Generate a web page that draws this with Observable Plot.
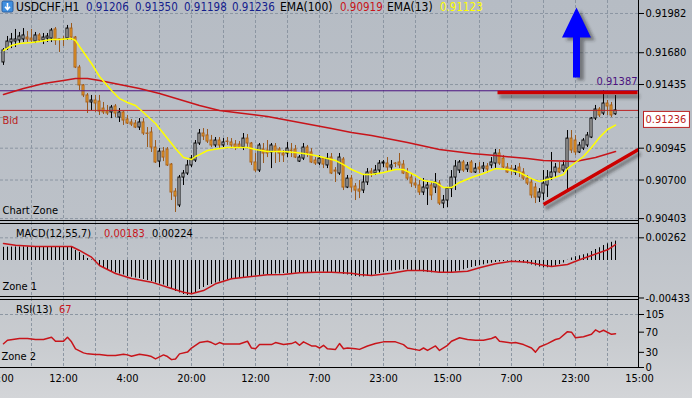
<!DOCTYPE html>
<html><head><meta charset="utf-8">
<script src="https://cdn.jsdelivr.net/npm/d3@7"></script>
<script src="https://cdn.jsdelivr.net/npm/@observablehq/plot@0.6"></script>
<style>
html,body{margin:0;padding:0;background:#c4c8cd;}
#chart{position:relative;width:692px;height:398px;overflow:hidden;
  background:linear-gradient(to bottom,#b6bcc4 0%,#bcc1c8 55%,#c8cbcf 85%,#d3d5d8 100%);}
</style></head><body><div id="chart"></div><script>
// ---------------- DATA ----------------
const symbolName = "USDCHF,H1";
// H1 candles (bar index = position in arrays)
const open = [.91605,.91712,.91759,.91766,.91774,.91782,.91797,.91789,.91766,.91813,
.91774,.91789,.91789,.91859,.91784,.91782,.91789,.91866,.91797,.91566,
.91428,.91351,.91297,.91312,.91304,.91250,.91227,.91220,.91266,.91181,
.91220,.91166,.91143,.91135,.91104,.91143,.91058,.91066,.90950,.90842,
.90919,.90935,.90819,.90611,.90504,.90719,.90750,.90812,.90850,.90981,
.91058,.91043,.91004,.90966,.91004,.90966,.90996,.90989,.90973,.90973,
.90950,.91019,.90981,.90835,.90773,.90935,.90927,.90912,.90958,.90935,
.90904,.90904,.90927,.90935,.90842,.90865,.90950,.90912,.90850,.90827,
.90865,.90812,.90873,.90773,.90750,.90858,.90642,.90711,.90650,.90627,
.90619,.90681,.90765,.90750,.90773,.90827,.90827,.90796,.90827,.90835,
.90819,.90758,.90719,.90673,.90658,.90604,.90634,.90658,.90642,.90673,
.90519,.90542,.90634,.90719,.90773,.90835,.90781,.90835,.90758,.90796,
.90788,.90804,.90812,.90827,.90904,.90865,.90796,.90788,.90758,.90796,
.90758,.90711,.90681,.90642,.90565,.90596,.90658,.90719,.90758,.90788,
.90773,.90788,.91019,.91004,.90912,.90942,.90966,.91027,.91173,.91243,
.91212,.91289,.91274,.91206];
const high = [.91712,.91805,.91828,.91859,.91836,.91866,.91843,.91859,.91836,.91828,
.91828,.91828,.91866,.91874,.91789,.91805,.91890,.91905,.91805,.91582,
.91435,.91366,.91351,.91351,.91351,.91297,.91274,.91274,.91281,.91250,
.91227,.91197,.91166,.91158,.91173,.91173,.91104,.91104,.91004,.90942,
.90950,.90950,.90827,.90634,.90735,.90773,.90850,.90889,.91004,.91089,
.91096,.91089,.91043,.91027,.91027,.91019,.91027,.91019,.91004,.90996,
.91058,.91050,.90989,.90904,.90981,.90981,.91004,.90981,.90981,.90950,
.90927,.90989,.90981,.90966,.90889,.90981,.90966,.90942,.90873,.90889,
.90873,.90904,.90904,.90796,.90904,.90873,.90735,.90735,.90673,.90696,
.90735,.90788,.90788,.90812,.90850,.90850,.90873,.90850,.90835,.90904,
.90850,.90788,.90750,.90711,.90696,.90711,.90681,.90681,.90750,.90696,
.90581,.90642,.90773,.90850,.90850,.90850,.90835,.90850,.90827,.90835,
.90835,.90827,.90873,.90935,.90935,.90889,.90827,.90812,.90812,.90827,
.90788,.90735,.90711,.90673,.90634,.90773,.90773,.90912,.90827,.90835,
.90850,.91081,.91081,.91043,.90989,.91019,.91066,.91181,.91274,.91258,
.91387,.91312,.91297,.91350];
const low = [.91582,.91697,.91712,.91720,.91751,.91759,.91759,.91751,.91751,.91759,
.91743,.91759,.91759,.91736,.91682,.91728,.91774,.91774,.91558,.91389,
.91335,.91212,.91235,.91220,.91197,.91204,.91197,.91173,.91181,.91143,
.91120,.91127,.91112,.91096,.91081,.91043,.90950,.90912,.90827,.90796,
.90842,.90804,.90542,.90450,.90488,.90658,.90735,.90796,.90835,.90966,
.91004,.90981,.90950,.90950,.90942,.90950,.90966,.90942,.90927,.90942,
.90927,.90942,.90812,.90758,.90758,.90827,.90873,.90788,.90827,.90835,
.90835,.90873,.90873,.90865,.90835,.90850,.90873,.90827,.90812,.90812,
.90788,.90788,.90742,.90681,.90735,.90619,.90634,.90604,.90542,.90557,
.90596,.90658,.90719,.90735,.90750,.90796,.90758,.90773,.90796,.90788,
.90742,.90696,.90642,.90634,.90581,.90581,.90504,.90542,.90596,.90504,
.90480,.90488,.90565,.90619,.90750,.90758,.90758,.90750,.90750,.90750,
.90758,.90750,.90788,.90788,.90812,.90788,.90750,.90735,.90735,.90719,
.90696,.90658,.90557,.90519,.90527,.90542,.90565,.90696,.90719,.90750,
.90758,.90619,.90904,.90889,.90904,.90927,.90950,.91019,.91158,.91181,
.91197,.91197,.91181,.91198];
const close = [.91697,.91766,.91782,.91782,.91805,.91813,.91782,.91774,.91813,.91774,
.91797,.91805,.91851,.91774,.91780,.91779,.91866,.91797,.91566,.91428,
.91351,.91297,.91312,.91289,.91227,.91220,.91212,.91258,.91212,.91220,
.91158,.91135,.91127,.91104,.91143,.91058,.91055,.90950,.90835,.90919,
.90873,.90812,.90604,.90573,.90719,.90750,.90812,.90865,.90981,.91058,
.91035,.90996,.90966,.91004,.90966,.90989,.90993,.90966,.90950,.90950,
.91019,.90981,.90835,.90773,.90966,.90904,.90904,.90966,.90919,.90904,
.90889,.90942,.90924,.90873,.90873,.90950,.90904,.90835,.90827,.90865,
.90819,.90865,.90750,.90765,.90873,.90642,.90711,.90642,.90619,.90611,
.90681,.90758,.90750,.90773,.90827,.90835,.90796,.90812,.90824,.90812,
.90750,.90711,.90673,.90658,.90604,.90642,.90658,.90581,.90681,.90519,
.90542,.90634,.90719,.90804,.90835,.90773,.90812,.90758,.90788,.90781,
.90804,.90781,.90835,.90904,.90827,.90796,.90758,.90773,.90781,.90758,
.90711,.90673,.90581,.90565,.90604,.90673,.90719,.90758,.90796,.90758,
.90812,.91019,.90927,.90912,.90966,.91004,.91043,.91173,.91243,.91197,
.91289,.91266,.91197,.91236];

// EMA lines: [bar index, value]
const ema100 = [[0,.91358],[5,.91404],[10,.91443],[15,.91466],[18,.91481],[21,.91481],[24,.91466],[29,.91435],
[34,.91404],[39,.91366],[44,.91320],[49,.91274],[54,.91235],[58,.91220],[66,.91189],[74,.91143],[82,.91096],
[87,.91066],[92,.91043],[101,.90989],[109,.90935],[117,.90904],[123,.90889],[131,.90865],[135,.90850],
[143,.90842],[148,.90873],[153,.90919]];
const ema13 = [[0,.91697],[2,.91735],[4,.91751],[7,.91759],[9,.91766],[12,.91782],[14,.91782],[17,.91789],
[18,.91774],[19,.91728],[22,.91597],[24,.91497],[27,.91389],[29,.91327],[31,.91297],[33,.91274],[35,.91220],
[38,.91135],[40,.91058],[43,.90942],[45,.90873],[47,.90858],[48,.90881],[49,.90896],[51,.90927],[54,.90942],
[56,.90950],[61,.90950],[63,.90935],[66,.90919],[70,.90919],[73,.90912],[75,.90904],[78,.90889],[80,.90873],
[83,.90850],[85,.90819],[87,.90781],[90,.90742],[92,.90742],[95,.90758],[98,.90781],[100,.90781],[103,.90735],
[105,.90696],[108,.90681],[110,.90642],[112,.90642],[114,.90681],[117,.90719],[120,.90750],[123,.90788],
[126,.90781],[129,.90758],[132,.90711],[134,.90688],[137,.90711],[140,.90742],[141,.90788],[143,.90835],
[145,.90881],[147,.90950],[149,.91027],[151,.91089],[153,.91123]];

// MACD(12,55,7): main (histogram, one per bar) and signal line
const macdMain = [.00152,.00154,.00155,.00156,.00156,.00157,.00157,.00156,.00156,.00155,.00155,.00154,.00155,.00156,.00155,.00154,.00155,.00154,
.00116,.00092,.00058,.00023,.00006,-.00017,-.00058,-.00092,-.00115,-.00133,-.00144,-.00156,-.00167,-.00185,-.00193,-.00202,-.00208,-.00219,
-.00231,-.00243,-.00260,-.00271,-.00283,-.00300,-.00329,-.00358,-.00375,-.00393,-.00404,-.00393,-.00370,-.00335,-.00312,-.00289,-.00277,
-.00260,-.00248,-.00237,-.00225,-.00214,-.00208,-.00202,-.00196,-.00190,-.00185,-.00179,-.00173,-.00167,-.00162,-.00162,-.00156,-.00156,
-.00150,-.00150,-.00150,-.00147,-.00147,-.00144,-.00139,-.00139,-.00135,-.00135,-.00135,-.00139,-.00139,-.00144,-.00150,-.00162,-.00167,
-.00179,-.00185,-.00190,-.00190,-.00185,-.00173,-.00162,-.00150,-.00139,-.00127,-.00121,-.00116,-.00110,-.00107,-.00110,-.00116,-.00121,
-.00127,-.00133,-.00139,-.00142,-.00139,-.00139,-.00142,-.00147,-.00144,-.00133,-.00121,-.00107,-.00092,-.00081,-.00069,-.00060,-.00050,
-.00038,-.00031,-.00023,-.00017,-.00012,-.00008,-.00008,-.00008,-.00017,-.00029,-.00040,-.00052,-.00064,-.00075,-.00084,-.00084,-.00075,
-.00064,-.00046,-.00029,.00002,.00029,.00043,.00054,.00066,.00077,.00104,.00127,.00147,.00173,.00193,.00210,.00224];
const macdSignal = [[0,.00196],[3,.00175],[8,.00162],[17,.00162],[19,.00116],[22,.00038],[24,-.00058],[28,-.00150],
[32,-.00208],[37,-.00250],[41,-.00308],[45,-.00366],[47,-.00385],[50,-.00347],[53,-.00269],[57,-.00211],[62,-.00185],
[66,-.00165],[70,-.00162],[74,-.00142],[78,-.00135],[82,-.00135],[87,-.00147],[89,-.00162],[92,-.00173],[97,-.00147],
[101,-.00116],[105,-.00116],[109,-.00135],[112,-.00135],[116,-.00124],[119,-.00084],[123,-.00038],[127,-.00008],
[131,-.00020],[134,-.00046],[137,-.00069],[141,-.00046],[144,.00008],[147,.00058],[151,.00124],[153,.00183]];

// RSI(13): [bar index, value]
const rsi = [[0,47],[1,54],[4,57.5],[6,57.5],[8,55.5],[10,55.5],[12,60],[13,52],[15,52],[16,60],[17,51],[18,37],
[20,29],[21,27],[23,25.7],[24,25.7],[26,23.7],[28,23.7],[30,26.4],[31,25],[32,22.3],[34,26.4],[36,23.7],[37,21.7],
[38,17],[40,25],[41,21.7],[42,15.6],[43,17],[44,27],[46,30.5],[47,38.6],[49,49.4],[51,52],[52,49.4],[53,45.4],
[54,49.4],[55,46.7],[57,46.7],[59,46.7],[61,52],[62,38.6],[63,37],[64,45.4],[67,45.4],[68,49.4],[70,45.4],[72,47.4],
[73,50.8],[74,44],[75,50.8],[77,42.7],[78,42.7],[79,38.6],[80,44],[81,37],[83,35.9],[84,47.4],[85,37],[86,38.6],
[88,37],[89,35.9],[91,42.7],[93,47.4],[95,50.8],[96,50.8],[98,50.8],[100,45.4],[101,38.6],[104,33.9],[105,38.6],
[106,33.9],[108,42.7],[109,33.9],[111,44],[112,52],[114,59],[116,55.5],[118,54],[120,54],[122,57.5],[123,61],
[124,52],[127,48.7],[128,49.4],[130,45.4],[132,38.6],[133,30.5],[134,40.6],[136,47.4],[138,55.5],[139,57.5],
[141,71],[142,70],[143,59],[145,61],[147,65.7],[148,74.5],[149,70],[150,73.8],[152,65.7],[153,67]];

// axis ticks / labels
const mainTicks = [0.91982, 0.91680, 0.91435, 0.90945, 0.90700, 0.90403];
const mainGridLevels = [0.91982, 0.91680, 0.91435, 0.91181, 0.90945, 0.90700, 0.90403];
const macdTicks = [0.00262, -0.00433];
const rsiTicks = [105, 70, 30, 0];
const timeIdx = [-1, 15, 31, 47, 63, 79, 95, 111, 127, 143, 159];
const timeText = ["20:00","12:00","4:00","20:00","12:00","7:00","23:00","15:00","7:00","23:00","15:00"];
const bidPrice = 0.91236;
const highLevel = 0.91387;
// hand-drawn objects: trend lines and arrow (bar index / price)
const trendI1 = [123.5, 135], trendP1 = [0.91374, 0.90511];
const trendI2 = [158.5, 158.75], trendP2 = [0.91374, 0.90935];
const arrowI = [143.25], arrowBase = [0.91489];

// ---------------- STYLE ----------------
const FONT = "'DejaVu Sans Condensed', Roboto, sans-serif";
const W = 692, MR = 54;
const xDomain = [-0.75, 158.75];
const GRID = "#8c96a2", DASH = "3,2";
const BEAR_FILL = "#f2a52c", BEAR_EDGE = "#a8601a", BEAR_WICK = "#9a5a1e";
const RED = "#c8141a", YELLOW = "#ffff00", PURPLE = "#4b1280", BID = "#bb2222";
const gridIdx = d3.range(7, 158, 8);

const candles = open.map((o, i) => ({i, o, h: high[i], l: low[i], c: close[i]}));
const bull = candles.filter(d => d.c >= d.o), bear = candles.filter(d => d.c < d.o);
const toPts = a => a.map(([i, v]) => ({i, v}));
const trends = trendI1.map((_, k) => ({i1: trendI1[k], p1: trendP1[k], i2: trendI2[k], p2: trendP2[k]}));
const arrows = arrowI.map((i, k) => ({i, v: arrowBase[k]}));
const macdRows = macdMain.map((v, i) => ({i, v}));
const arrowSymbol = {draw(ctx) {
  ctx.moveTo(-3.5, 0); ctx.lineTo(-3.5, -40); ctx.lineTo(-14.5, -40); ctx.lineTo(0, -70);
  ctx.lineTo(14.5, -40); ctx.lineTo(3.5, -40); ctx.lineTo(3.5, 0); ctx.closePath();
}};
const baseStyle = `font-family:${FONT};font-size:11px;background:transparent;overflow:visible;color:#000;`;
const root = document.getElementById("chart");
function place(svg, top) { svg.style.position = "absolute"; svg.style.left = "0px"; svg.style.top = top + "px"; root.appendChild(svg); return svg; }

// ---------------- MAIN PANEL ----------------
const main = Plot.plot({
  width: W, height: 222, marginLeft: 0, marginRight: MR, marginTop: 0, marginBottom: 0,
  style: baseStyle,
  x: {domain: xDomain, axis: null},
  y: {domain: [0.90373, 0.92082], axis: "right", ticks: mainTicks, tickFormat: d => d.toFixed(5), tickSize: 5, tickPadding: 2, label: null},
  marks: [
    Plot.ruleX(gridIdx, {stroke: GRID, strokeDasharray: DASH}),
    Plot.ruleY(mainGridLevels, {stroke: GRID, strokeDasharray: DASH}),
    Plot.ruleX(bear, {x: "i", y1: "l", y2: "h", stroke: BEAR_WICK}),
    Plot.ruleX(bull, {x: "i", y1: "l", y2: "h", stroke: "#000"}),
    Plot.rect(bear, {x1: d => d.i - 0.25, x2: d => d.i + 0.25, y1: "o", y2: "c", fill: BEAR_FILL, stroke: BEAR_EDGE}),
    Plot.rect(bull, {x1: d => d.i - 0.25, x2: d => d.i + 0.25, y1: "o", y2: "c", fill: "#fff", stroke: "#000"}),
    Plot.ruleY([highLevel], {stroke: PURPLE}),
    Plot.ruleY([bidPrice], {stroke: BID}),
    Plot.line(toPts(ema100), {x: "i", y: "v", stroke: RED}),
    Plot.line(toPts(ema13), {x: "i", y: "v", stroke: YELLOW}),
    Plot.link(trends, {x1: "i1", y1: "p1", x2: "i2", y2: "p2", stroke: "#222", strokeOpacity: 0.45, strokeWidth: 4, dx: 2, dy: 4}),
    Plot.link(trends, {x1: "i1", y1: "p1", x2: "i2", y2: "p2", stroke: "#cc0000", strokeWidth: 3.5}),
    Plot.dot(arrows, {x: "i", y: "v", symbol: arrowSymbol, r: 1, fill: "#222", fillOpacity: 0.45, stroke: "none", dx: 4, dy: 3}),
    Plot.dot(arrows, {x: "i", y: "v", symbol: arrowSymbol, r: 1, fill: "#0000ff", stroke: "none"}),
    Plot.text([highLevel], {y: d => d, text: d => d.toFixed(5), frameAnchor: "right", textAnchor: "end", dx: -1, dy: -9, fill: PURPLE, fontSize: 11}),
    Plot.text([bidPrice], {y: d => d, text: () => "Bid", frameAnchor: "left", textAnchor: "start", dx: 2, dy: 10, fill: BID, fontSize: 11}),
    Plot.text(["Chart Zone"], {text: d => d, frameAnchor: "bottom-left", textAnchor: "start", dx: 2, dy: -9, fill: "#000", fontSize: 11}),
    Plot.text([bidPrice], {y: d => d, text: d => d.toFixed(5), frameAnchor: "right", textAnchor: "start", dx: 7, dy: 9, fill: BID, fontSize: 11})
  ]
});
place(main, 0);

// ---------------- MACD PANEL ----------------
const macd = Plot.plot({
  width: W, height: 76, marginLeft: 0, marginRight: MR, marginTop: 0, marginBottom: 0,
  style: baseStyle,
  x: {domain: xDomain, axis: null},
  y: {domain: [-0.004389, 0.004389], axis: "right", ticks: macdTicks, tickFormat: d => d.toFixed(5), tickSize: 5, tickPadding: 2, label: null},
  marks: [
    Plot.ruleX(gridIdx, {stroke: GRID, strokeDasharray: DASH}),
    Plot.ruleY([macdTicks[0]], {stroke: GRID, strokeDasharray: DASH}),
    Plot.ruleX(macdRows, {x: "i", y1: 0, y2: "v", stroke: "#000"}),
    Plot.line(toPts(macdSignal), {x: "i", y: "v", stroke: RED}),
    Plot.text(["Zone 1"], {text: d => d, frameAnchor: "bottom-left", textAnchor: "start", dx: 2, dy: -9, fill: "#000", fontSize: 11})
  ]
});
place(macd, 222);

// ---------------- RSI PANEL + TIME AXIS ----------------
const rsiPlot = Plot.plot({
  width: W, height: 100, marginLeft: 0, marginRight: MR, marginTop: 0, marginBottom: 30,
  style: baseStyle,
  x: {domain: xDomain, axis: null},
  y: {domain: [-1.98, 136.7], axis: "right", ticks: rsiTicks, tickFormat: d => String(d), tickSize: 5, tickPadding: 2, label: null},
  marks: [
    Plot.ruleX(gridIdx, {stroke: GRID, strokeDasharray: DASH}),
    Plot.ruleY([105], {stroke: GRID, strokeDasharray: DASH}),
    Plot.line(toPts(rsi), {x: "i", y: "v", stroke: RED}),
    Plot.text(["Zone 2"], {text: d => d, frameAnchor: "bottom-left", textAnchor: "start", dx: 1, dy: -9, fill: "#000", fontSize: 11}),
    Plot.text(timeIdx.map((i, k) => ({i, t: timeText[k]})), {x: "i", text: "t", frameAnchor: "bottom", dy: 13, fill: "#000", fontSize: 11})
  ]
});
place(rsiPlot, 298);

// ---------------- OVERLAY (borders, headers) ----------------
const ov = d3.select(root).append("svg").attr("width", W).attr("height", 398)
  .style("position", "absolute").style("left", 0).style("top", 0).style("font-family", FONT);
ov.append("defs").append("filter").attr("id", "blur").attr("x", "-30%").attr("y", "-30%").attr("width", "160%").attr("height", "160%")
  .append("feGaussianBlur").attr("stdDeviation", 1.8);
const B = "#000";
[220.5, 223.5, 296.5, 299.5, 367.5].forEach(y =>
  ov.append("line").attr("x1", 0).attr("x2", 639).attr("y1", y).attr("y2", y).attr("stroke", B));
ov.append("line").attr("x1", 638.5).attr("x2", 638.5).attr("y1", 0).attr("y2", 368).attr("stroke", B);

function txt(x, y, s, fill, size) {
  ov.append("text").attr("x", x).attr("y", y).attr("fill", fill).attr("font-size", size || 11).text(s);
}
// symbol icon
const ic = ov.append("g").attr("transform", "translate(2,1)");
ic.append("rect").attr("width", 11).attr("height", 11).attr("rx", 1.5).attr("fill", "#3f8fe0").attr("stroke", "#2a5fa0");
ic.append("path").attr("d", "M5.5 2 V8 M3 5.8 L5.5 8.5 L8 5.8").attr("stroke", "#fff").attr("stroke-width", 1.6).attr("fill", "none");
const last = open.length - 1;
const NAVY = "#14208c";
txt(16, 11, symbolName, "#000", 12);
txt(86, 11, open[last].toFixed(5), NAVY, 11.5);
txt(135, 11, high[last].toFixed(5), NAVY, 11.5);
txt(184, 11, low[last].toFixed(5), NAVY, 11.5);
txt(232, 11, close[last].toFixed(5), NAVY, 11.5);
txt(280, 11, "EMA(100)", "#000", 12);
txt(340, 11, ema100[ema100.length - 1][1].toFixed(5), RED, 11.5);
txt(387, 11, "EMA(13)", "#000", 12);
txt(440, 11, ema13[ema13.length - 1][1].toFixed(5), YELLOW, 11.5);
txt(16, 237, "MACD(12,55,7)", "#000");
txt(104, 237, macdSignal[macdSignal.length - 1][1].toFixed(5), RED);
txt(152, 237, macdMain[last].toFixed(5), "#000");
txt(16, 313, "RSI(13)", "#000");
txt(59, 313, String(rsi[rsi.length - 1][1]), RED);

// blur the drop shadows (marks drawn with 0.45 opacity)
main.querySelectorAll('g[stroke-opacity="0.45"], g[fill-opacity="0.45"]').forEach(g => g.setAttribute("filter", "url(#blur)"));
// price box behind the bid label
const bidLabel = bidPrice.toFixed(5);
const bt = Array.from(main.querySelectorAll("text")).find(t => t.textContent === bidLabel);
if (bt) {
  const bb = bt.getBBox();
  const r = document.createElementNS("http://www.w3.org/2000/svg", "rect");
  r.setAttribute("x", bb.x - 2); r.setAttribute("y", bb.y + bb.height / 2 - 8);
  r.setAttribute("width", bb.width + 5); r.setAttribute("height", 16);
  r.setAttribute("fill", "#fff"); r.setAttribute("stroke", BID);
  if (bt.getAttribute("transform")) r.setAttribute("transform", bt.getAttribute("transform"));
  bt.parentNode.insertBefore(r, bt);
}
</script></body></html>
